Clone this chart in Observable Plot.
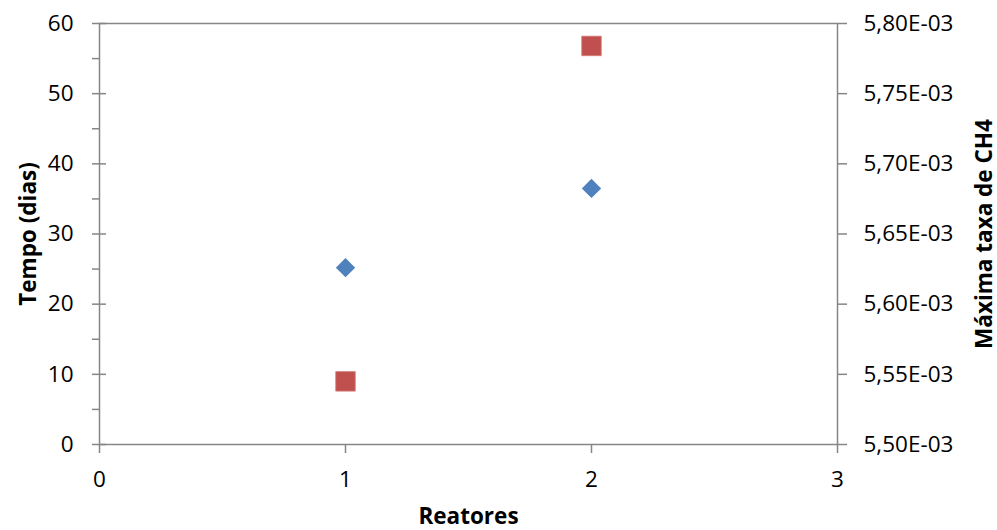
<!DOCTYPE html>
<html><head><meta charset="utf-8">
<script src="https://cdn.jsdelivr.net/npm/d3@7"></script>
<script src="https://cdn.jsdelivr.net/npm/@observablehq/plot@0.6"></script>
<style>
body{margin:0;background:#fff}
svg{display:block}
</style>
</head><body><div id="chart"></div>
<script>
// Data
const reatores = [1, 2];
const tempoDias = [25.2, 36.5];
const maxTaxaCH4 = [5.545e-3, 5.784e-3];

// Axis ticks
const xTicks = [0, 1, 2, 3];
const leftTicks = [0, 10, 20, 30, 40, 50, 60];
const leftMinorTicks = [5, 15, 25, 35, 45, 55];
const rightTicks = [5.50e-3, 5.55e-3, 5.60e-3, 5.65e-3, 5.70e-3, 5.75e-3, 5.80e-3];

// Titles
const xTitle = "Reatores";
const leftTitle = "Tempo (dias)";
const rightTitle = "Máxima taxa de CH4";

const leftMin = leftTicks[0], leftMax = leftTicks[leftTicks.length - 1];
const rightMin = rightTicks[0], rightMax = rightTicks[rightTicks.length - 1];
const toLeft = v => leftMin + (v - rightMin) / (rightMax - rightMin) * (leftMax - leftMin);

const fmtRight = v => {
  const [m, e] = v.toExponential(2).split("e");
  const en = +e;
  return m.replace(".", ",") + "E" + (en < 0 ? "-" : "+") + String(Math.abs(en)).padStart(2, "0");
};

const blue = reatores.map((r, i) => ({r, v: tempoDias[i]}));
const red = reatores.map((r, i) => ({r, v: maxTaxaCH4[i]}));

const axisColor = "#868686";
const titleFont = 22.5;

const chart = Plot.plot({
  width: 997,
  height: 530,
  marginLeft: 99,
  marginRight: 160,
  marginTop: 23,
  marginBottom: 86,
  style: {fontFamily: "'Open Sans', sans-serif", fontSize: "22.5px", color: "black", background: "white", overflow: "visible"},
  x: {domain: [xTicks[0], xTicks[xTicks.length - 1]]},
  y: {domain: [leftMin, leftMax]},
  marks: [
    Plot.frame({stroke: axisColor, strokeWidth: 1.5}),
    Plot.axisX(xTicks, {tickSize: 9, tickPadding: 18, stroke: axisColor, strokeWidth: 1.5, fill: "black", tickFormat: d => String(d), label: null}),
    Plot.axisY(leftTicks, {anchor: "left", tickSize: 7, tickPadding: 19, stroke: axisColor, strokeWidth: 1.5, fill: "black", tickFormat: d => String(d), label: null}),
    Plot.axisY(leftTicks, {anchor: "left", tickSize: -7, tickFormat: () => "", stroke: axisColor, strokeWidth: 1.5, label: null}),
    Plot.axisY(leftMinorTicks, {anchor: "left", tickSize: 7, tickFormat: () => "", stroke: axisColor, strokeWidth: 1.5, label: null}),
    Plot.axisY(rightTicks.map(toLeft), {anchor: "right", tickSize: 9, tickPadding: 17, stroke: axisColor, strokeWidth: 1.5, fill: "black",
      tickFormat: d => fmtRight(rightMin + (d - leftMin) / (leftMax - leftMin) * (rightMax - rightMin)), label: null}),
    Plot.text([leftTitle], {text: d => d, frameAnchor: "left", dx: -71, rotate: -90, textAnchor: "middle", lineAnchor: "middle", fontWeight: "bold", fontSize: titleFont}),
    Plot.text([rightTitle], {text: d => d, frameAnchor: "right", dx: 147, rotate: -90, textAnchor: "middle", lineAnchor: "middle", fontWeight: "bold", fontSize: titleFont}),
    Plot.text([xTitle], {text: d => d, frameAnchor: "bottom", dy: 72, textAnchor: "middle", lineAnchor: "middle", fontWeight: "bold", fontSize: titleFont}),
    Plot.dot(blue, {x: "r", y: "v", symbol: "diamond2", r: 8.7, fill: "#4F81BD", stroke: "none"}),
    Plot.dot(red, {x: "r", y: d => toLeft(d.v), symbol: "square", r: 11, fill: "#C0504D", stroke: "#D07976", strokeWidth: 0.8})
  ]
});
document.getElementById("chart").appendChild(chart);
</script>
</body></html>
